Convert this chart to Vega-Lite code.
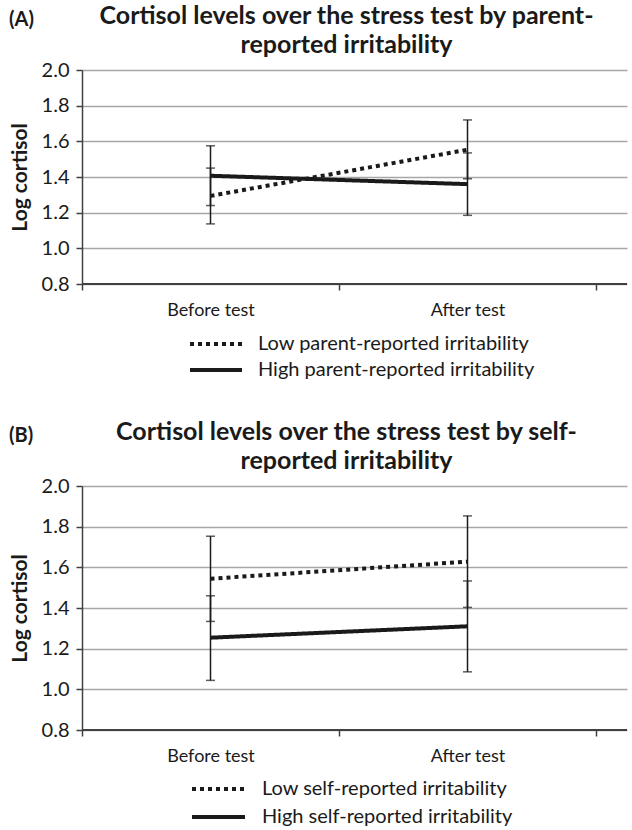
{
  "$schema": "https://vega.github.io/schema/vega-lite/v6.json",
  "padding": {"left": 9, "top": 4, "right": 0, "bottom": 0},
  "background": "white",
  "spacing": 40,
  "resolve": {"scale": {"strokeDash": "independent", "x": "independent", "y": "independent"}, "legend": {"strokeDash": "independent"}},
  "config": {
    "font": "Lato",
    "view": {"stroke": null},
    "title": {"font": "Lato", "fontWeight": "bold", "color": "#1a1a1a"},
    "axis": {"labelFont": "Lato", "titleFont": "Lato", "labelColor": "#1a1a1a", "titleColor": "#1a1a1a"},
    "legend": {"labelFont": "Lato", "labelColor": "#1a1a1a"}
  },
  "datasets": {
    "a": [
      {"group": "Low parent-reported irritability", "time": "Before test", "mean": 1.294, "lo": 1.137, "hi": 1.45},
      {"group": "Low parent-reported irritability", "time": "After test", "mean": 1.553, "lo": 1.39, "hi": 1.72},
      {"group": "High parent-reported irritability", "time": "Before test", "mean": 1.407, "lo": 1.24, "hi": 1.575},
      {"group": "High parent-reported irritability", "time": "After test", "mean": 1.36, "lo": 1.185, "hi": 1.535}
    ],
    "b": [
      {"group": "Low self-reported irritability", "time": "Before test", "mean": 1.544, "lo": 1.334, "hi": 1.753},
      {"group": "Low self-reported irritability", "time": "After test", "mean": 1.628, "lo": 1.403, "hi": 1.853},
      {"group": "High self-reported irritability", "time": "Before test", "mean": 1.254, "lo": 1.044, "hi": 1.46},
      {"group": "High self-reported irritability", "time": "After test", "mean": 1.31, "lo": 1.086, "hi": 1.533}
    ]
  },
  "vconcat": [
    {
      "title": {"text": "(A)", "anchor": "start", "frame": "bounds", "fontSize": 20, "offset": -26},
      "vconcat": [
        {
          "width": 545,
          "height": 214,
          "title": {"text": ["Cortisol levels over the stress test by parent-", "reported irritability"], "anchor": "middle", "fontSize": 25, "lineHeight": 29, "dx": -8, "offset": 2},
          "data": {"name": "a"},
          "encoding": {
            "x": {"field": "time", "type": "nominal", "sort": ["Before test", "After test"],
              "scale": {"paddingInner": 0, "paddingOuter": 0.0603, "align": 0},
              "axis": {"title": null, "labelAngle": 0, "domain": false, "tickBand": "extent", "tickSize": 6, "tickColor": "#404040", "tickWidth": 1.5, "labelFontSize": 18, "labelPadding": 11, "grid": false}},
            "y": {"type": "quantitative", "scale": {"domain": [0.8, 2.0], "nice": false, "zero": false},
              "axis": {"title": "Log cortisol", "values": [0.8, 1.0, 1.2, 1.4, 1.6, 1.8, 2.0], "format": ".1f", "grid": true, "gridColor": "#a6a6a6", "gridWidth": 1.5, "domainColor": "#404040", "domainWidth": 1.5, "tickColor": "#404040", "tickWidth": 1.5, "tickSize": 6, "labelFontSize": 20, "labelPadding": 7, "titleFontSize": 21, "titleFontWeight": "bold", "titlePadding": 11}}
          },
          "layer": [
            {"mark": {"type": "rule", "color": "#404040", "strokeWidth": 1.5}, "encoding": {"y": {"datum": 0.8}, "x": null}},
            {"mark": {"type": "line", "strokeWidth": 4, "color": "#1a1a1a"},
              "encoding": {"y": {"field": "mean"},
                "strokeDash": {"field": "group", "type": "nominal",
                  "scale": {"domain": ["Low parent-reported irritability", "High parent-reported irritability"], "range": [[4, 4], [1, 0]]},
                  "legend": {"title": null, "orient": "none", "legendX": 106, "legendY": 266, "symbolType": "stroke", "symbolSize": 2704, "symbolStrokeWidth": 4, "symbolStrokeColor": "#1a1a1a", "clipHeight": 16, "rowPadding": 6, "labelFontSize": 20, "labelOffset": 14, "labelLimit": 500}}}},
            {"mark": {"type": "rule", "color": "#1a1a1a", "strokeWidth": 1.5}, "encoding": {"y": {"field": "lo"}, "y2": {"field": "hi"}}},
            {"mark": {"type": "tick", "color": "#1a1a1a", "thickness": 1.5, "size": 9}, "encoding": {"y": {"field": "lo"}}},
            {"mark": {"type": "tick", "color": "#1a1a1a", "thickness": 1.5, "size": 9}, "encoding": {"y": {"field": "hi"}}}
          ]
        }
      ]
    },
    {
      "title": {"text": "(B)", "anchor": "start", "frame": "bounds", "fontSize": 20, "offset": -26},
      "vconcat": [
        {
          "width": 545,
          "height": 244,
          "title": {"text": ["Cortisol levels over the stress test by self-", "reported irritability"], "anchor": "middle", "fontSize": 25, "lineHeight": 29, "dx": -8, "offset": 2},
          "data": {"name": "b"},
          "encoding": {
            "x": {"field": "time", "type": "nominal", "sort": ["Before test", "After test"],
              "scale": {"paddingInner": 0, "paddingOuter": 0.0603, "align": 0},
              "axis": {"title": null, "labelAngle": 0, "domain": false, "tickBand": "extent", "tickSize": 6, "tickColor": "#404040", "tickWidth": 1.5, "labelFontSize": 18, "labelPadding": 11, "grid": false}},
            "y": {"type": "quantitative", "scale": {"domain": [0.8, 2.0], "nice": false, "zero": false},
              "axis": {"title": "Log cortisol", "values": [0.8, 1.0, 1.2, 1.4, 1.6, 1.8, 2.0], "format": ".1f", "grid": true, "gridColor": "#a6a6a6", "gridWidth": 1.5, "domainColor": "#404040", "domainWidth": 1.5, "tickColor": "#404040", "tickWidth": 1.5, "tickSize": 6, "labelFontSize": 20, "labelPadding": 7, "titleFontSize": 21, "titleFontWeight": "bold", "titlePadding": 11}}
          },
          "layer": [
            {"mark": {"type": "rule", "color": "#404040", "strokeWidth": 1.5}, "encoding": {"y": {"datum": 0.8}, "x": null}},
            {"mark": {"type": "line", "strokeWidth": 4, "color": "#1a1a1a"},
              "encoding": {"y": {"field": "mean"},
                "strokeDash": {"field": "group", "type": "nominal",
                  "scale": {"domain": ["Low self-reported irritability", "High self-reported irritability"], "range": [[4, 4], [1, 0]]},
                  "legend": {"title": null, "orient": "none", "legendX": 108, "legendY": 295, "symbolType": "stroke", "symbolSize": 2809, "symbolStrokeWidth": 4, "symbolStrokeColor": "#1a1a1a", "clipHeight": 16, "rowPadding": 8, "labelFontSize": 20, "labelOffset": 15, "labelLimit": 500}}}},
            {"mark": {"type": "rule", "color": "#1a1a1a", "strokeWidth": 1.5}, "encoding": {"y": {"field": "lo"}, "y2": {"field": "hi"}}},
            {"mark": {"type": "tick", "color": "#1a1a1a", "thickness": 1.5, "size": 9}, "encoding": {"y": {"field": "lo"}}},
            {"mark": {"type": "tick", "color": "#1a1a1a", "thickness": 1.5, "size": 9}, "encoding": {"y": {"field": "hi"}}}
          ]
        }
      ]
    }
  ]
}
